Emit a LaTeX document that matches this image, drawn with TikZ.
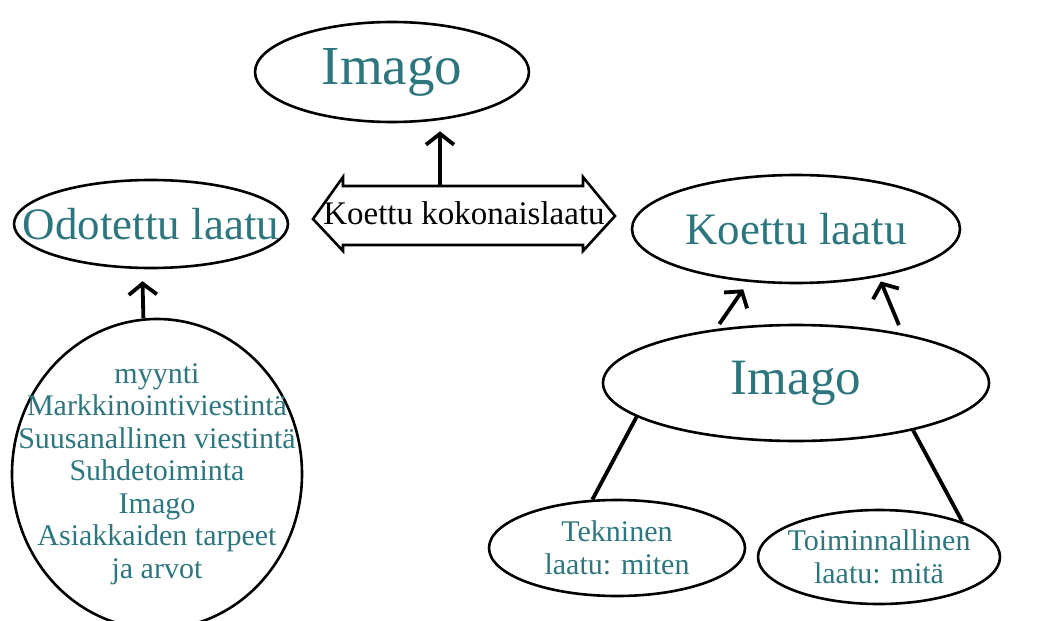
\documentclass[tikz,border=0pt]{standalone}
\usepackage{fontspec}
\setmainfont{Liberation Serif}
\usetikzlibrary{shapes.geometric,arrows.meta}
\definecolor{tealtext}{RGB}{45,118,126}
\begin{document}
\begin{tikzpicture}[x=1pt,y=-1pt,
    oval/.style={draw, ellipse, line width=2.6pt, inner sep=0pt},
    lbl/.style={text=tealtext, align=center},
    arr/.style={line width=3.8pt, -{Straight Barb[length=11pt,width=28pt]}},
    link/.style={line width=3.8pt}]
    \useasboundingbox (0,0) rectangle (1058,621);

    % Ylin imago
    \node[oval, minimum width=274pt, minimum height=100pt,
        label={[lbl, font=\fontsize{55}{62}\selectfont]center:Imago}] (imagoT) at (392,72) {};

    % Koettu kokonaislaatu (kaksoisnuoli)
    \node[font=\fontsize{33}{38}\selectfont] (kokonais) at (464,213) {Koettu kokonaislaatu};
    \draw[line width=2.6pt] (313,219) -- (343,177) -- (343,186) -- (583,186) -- (583,177) -- (615,216)
        -- (583,251) -- (583,245) -- (343,245) -- (343,251) -- cycle;
    \coordinate (kokTop) at (440,186);
    \draw[arr, shorten >=8pt] (kokTop) -- (kokTop |- imagoT.south);

    % Odotettu laatu
    \node[oval, minimum width=274pt, minimum height=88pt,
        label={[lbl, font=\fontsize{45}{52}\selectfont]center:Odotettu laatu}] (odotettu) at (151,224) {};
    \node[oval, minimum width=290pt, minimum height=310pt,
        label={[lbl, font=\fontsize{30}{32.5}\selectfont]center:{myynti\\Markkinointiviestintä\\Suusanallinen viestintä\\Suhdetoiminta\\Imago\\Asiakkaiden tarpeet\\ja arvot}}] (tekijat) at (157,474) {};
    \draw[arr, shorten >=12pt] (tekijat.95.2) -- (odotettu.259.7);

    % Koettu laatu
    \node[oval, minimum width=328pt, minimum height=108pt,
        label={[lbl, font=\fontsize{45}{52}\selectfont]center:Koettu laatu}] (koettu) at (796,229) {};
    \node[oval, minimum width=386pt, minimum height=116pt,
        label={[lbl, font=\fontsize{51}{58}\selectfont]center:Imago}] (imagoR) at (796,383) {};
    \draw[arr, shorten <=6pt, shorten >=9pt] (imagoR.146) -- (koettu.228.5);
    \draw[arr, shorten <=9pt, shorten >=5pt] (imagoR.25.2) -- (koettu.330.3);

    % Tekninen ja toiminnallinen laatu
    \node[oval, minimum width=256pt, minimum height=96pt,
        label={[lbl, font=\fontsize{30}{33}\selectfont]center:{Tekninen\\laatu: miten}}] (tekninen) at (617,548) {};
    \node[oval, minimum width=242pt, minimum height=94pt,
        label={[lbl, font=\fontsize{30}{33}\selectfont]center:{Toiminnallinen\\laatu: mitä}}] (toiminnallinen) at (879,557) {};
    \draw[link] (imagoR.192.3) -- (tekninen.117);
    \draw[link] (imagoR.338.2) -- (toiminnallinen.23.3);
\end{tikzpicture}
\end{document}
